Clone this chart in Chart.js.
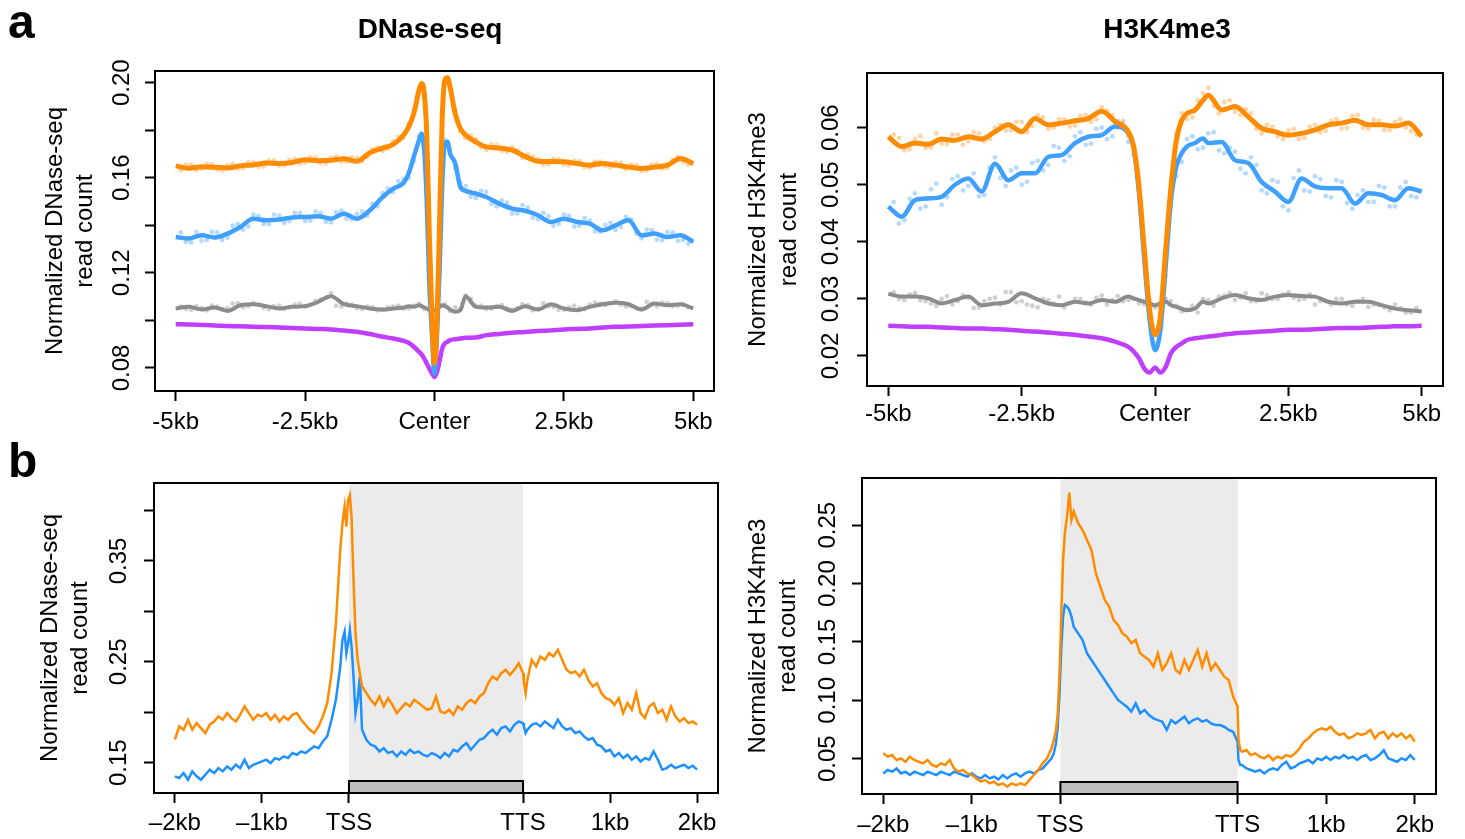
<!DOCTYPE html>
<html>
<head>
<meta charset="utf-8">
<script src="https://cdn.jsdelivr.net/npm/chart.js@4.4.0/dist/chart.umd.min.js"></script>
<style>
html, body { margin: 0; padding: 0; background: #fff; }
#wrap { position: relative; width: 1465px; height: 839px; overflow: hidden; }
canvas { position: absolute; }
</style>
</head>
<body>
<div id="wrap">
  <canvas id="cA1" width="735" height="440" style="left:0;top:0"></canvas>
  <canvas id="cA2" width="730" height="440" style="left:735px;top:0"></canvas>
  <canvas id="cB1" width="735" height="399" style="left:0;top:440px"></canvas>
  <canvas id="cB2" width="730" height="399" style="left:735px;top:440px"></canvas>
</div>
<script>
// ---- panel a, DNase-seq (kb from peak center) ----
const dnaseKb = [-5,-4.75,-4.5,-4.25,-4,-3.75,-3.5,-3.25,-3,-2.75,-2.5,-2.25,-2,-1.75,-1.5,-1.25,-1,-0.8,-0.6,-0.5,-0.4,-0.3,-0.25,-0.2,-0.15,-0.1,-0.05,0,0.05,0.1,0.15,0.2,0.25,0.3,0.4,0.5,0.6,0.8,1,1.25,1.5,1.75,2,2.25,2.5,2.75,3,3.25,3.5,3.75,4,4.25,4.5,4.75,5];
const dnaseOrange = [0.1650,0.1640,0.1646,0.1644,0.1641,0.1650,0.1654,0.1662,0.1660,0.1664,0.1676,0.1672,0.1674,0.1680,0.1669,0.1705,0.1725,0.1740,0.1779,0.1814,0.1870,0.1968,0.1996,0.1960,0.1786,0.1365,0.1015,0.0819,0.1015,0.1435,0.1856,0.2010,0.2021,0.1982,0.1870,0.1807,0.1780,0.1750,0.1730,0.1725,0.1716,0.1690,0.1669,0.1668,0.1667,0.1660,0.1653,0.1660,0.1653,0.1645,0.1639,0.1645,0.1653,0.1681,0.1660];
const dnaseBlue = [0.1351,0.1344,0.1358,0.1349,0.1365,0.1393,0.1428,0.1421,0.1424,0.1433,0.1435,0.1438,0.1428,0.1449,0.1428,0.1463,0.1519,0.1554,0.1578,0.1618,0.1688,0.1758,0.1786,0.1716,0.1505,0.1155,0.0945,0.0777,0.0945,0.1225,0.1575,0.1744,0.1751,0.1702,0.1660,0.1561,0.1545,0.1533,0.1519,0.1491,0.1470,0.1461,0.1442,0.1414,0.1428,0.1414,0.1407,0.1379,0.1400,0.1421,0.1358,0.1365,0.1351,0.1358,0.1330];
const dnaseGray = [0.1050,0.1057,0.1046,0.1054,0.1040,0.1064,0.1068,0.1060,0.1050,0.1057,0.1060,0.1078,0.1102,0.1068,0.1060,0.1050,0.1046,0.1050,0.1054,0.1060,0.1057,0.1064,0.1060,0.1054,0.1050,0.1046,0.1043,0.1043,0.1050,0.1057,0.1064,0.1060,0.1054,0.1046,0.1036,0.1043,0.1100,0.1057,0.1054,0.1057,0.1040,0.1060,0.1046,0.1068,0.1050,0.1043,0.1057,0.1068,0.1074,0.1068,0.1046,0.1071,0.1064,0.1068,0.1050];
const dnasePurple = [0.0984,0.0983,0.0981,0.0979,0.0976,0.0975,0.0973,0.0972,0.0970,0.0968,0.0966,0.0964,0.0962,0.0957,0.0952,0.0943,0.0931,0.0924,0.0914,0.0906,0.0889,0.0868,0.0857,0.0840,0.0819,0.0798,0.0777,0.0763,0.0784,0.0833,0.0882,0.0903,0.0910,0.0917,0.0921,0.0924,0.0927,0.0928,0.0938,0.0943,0.0948,0.0951,0.0955,0.0958,0.0962,0.0964,0.0966,0.0970,0.0973,0.0974,0.0976,0.0978,0.0980,0.0982,0.0984];

// raw bin values (the faint dots), odd and even tenths of a kb
const dotKb = [-4.9,-4.7,-4.5,-4.3,-4.1,-3.9,-3.7,-3.5,-3.3,-3.1,-2.9,-2.7,-2.5,-2.3,-2.1,-1.9,-1.7,-1.5,-1.3,-1.1,-0.9,-0.7,-0.5,-0.3,-0.1,0.1,0.3,0.5,0.7,0.9,1.1,1.3,1.5,1.7,1.9,2.1,2.3,2.5,2.7,2.9,3.1,3.3,3.5,3.7,3.9,4.1,4.3,4.5,4.7,4.9];
const dotKb2 = [-4.8,-4.6,-4.4,-4.2,-4,-3.8,-3.6,-3.4,-3.2,-3,-2.8,-2.6,-2.4,-2.2,-2,-1.8,-1.6,-1.4,-1.2,-1,-0.8,-0.6,-0.4,-0.2,0,0.2,0.4,0.6,0.8,1,1.2,1.4,1.6,1.8,2,2.2,2.4,2.6,2.8,3,3.2,3.4,3.6,3.8,4,4.2,4.4,4.6,4.8];
const dnaseOrangeDots = [0.1632,0.1655,0.1638,0.1656,0.1630,0.1658,0.1640,0.1667,0.1648,0.1673,0.1652,0.1680,0.1664,0.1685,0.1660,0.1690,0.1668,0.1683,0.1687,0.1728,0.1722,0.1772,0.1826,0.1955,0.1380,0.1450,0.1990,0.1795,0.1778,0.1728,0.1740,0.1712,0.1728,0.1684,0.1690,0.1655,0.1680,0.1655,0.1672,0.1645,0.1668,0.1648,0.1665,0.1636,0.1652,0.1630,0.1658,0.1642,0.1688,0.1655];
const dnaseOrangeDots2 = [0.1655,0.1632,0.1658,0.1634,0.1652,0.1638,0.1665,0.1646,0.1672,0.1650,0.1675,0.1660,0.1686,0.1662,0.1684,0.1668,0.1686,0.1672,0.1720,0.1712,0.1755,0.1768,0.1882,0.1948,0.0790,0.2000,0.1885,0.1768,0.1762,0.1718,0.1738,0.1708,0.1716,0.1698,0.1678,0.1656,0.1678,0.1652,0.1670,0.1642,0.1668,0.1645,0.1662,0.1655,0.1628,0.1655,0.1638,0.1675,0.1665];
const dnaseBlueDots = [0.1370,0.1328,0.1335,0.1372,0.1338,0.1398,0.1382,0.1445,0.1405,0.1445,0.1410,0.1452,0.1418,0.1458,0.1415,0.1455,0.1428,0.1448,0.1440,0.1480,0.1555,0.1585,0.1600,0.1775,0.1180,0.1200,0.1720,0.1580,0.1520,0.1545,0.1490,0.1505,0.1450,0.1485,0.1432,0.1452,0.1398,0.1445,0.1395,0.1430,0.1375,0.1402,0.1380,0.1435,0.1365,0.1382,0.1340,0.1372,0.1335,0.1322];
const dnaseBlueDots2 = [0.1330,0.1372,0.1338,0.1370,0.1348,0.1405,0.1395,0.1440,0.1405,0.1440,0.1418,0.1452,0.1420,0.1452,0.1412,0.1462,0.1425,0.1458,0.1490,0.1535,0.1540,0.1595,0.1670,0.1735,0.0760,0.1760,0.1640,0.1565,0.1515,0.1540,0.1480,0.1495,0.1450,0.1475,0.1425,0.1438,0.1405,0.1440,0.1398,0.1420,0.1372,0.1410,0.1392,0.1425,0.1345,0.1380,0.1338,0.1370,0.1338];
const dnaseGrayDots = [0.1058,0.1045,0.1052,0.1062,0.1048,0.1070,0.1055,0.1074,0.1052,0.1060,0.1048,0.1066,0.1058,0.1082,0.1095,0.1062,0.1070,0.1052,0.1058,0.1042,0.1055,0.1062,0.1050,0.1070,0.1040,0.1062,0.1040,0.1048,0.1090,0.1062,0.1050,0.1064,0.1046,0.1068,0.1042,0.1072,0.1056,0.1045,0.1062,0.1048,0.1075,0.1064,0.1080,0.1058,0.1052,0.1078,0.1060,0.1072,0.1062,0.1055];
const dnaseGrayDots2 = [0.1048,0.1060,0.1042,0.1058,0.1052,0.1072,0.1060,0.1066,0.1048,0.1062,0.1055,0.1070,0.1065,0.1088,0.1115,0.1058,0.1066,0.1048,0.1055,0.1045,0.1058,0.1050,0.1062,0.1048,0.1040,0.1068,0.1055,0.1105,0.1062,0.1048,0.1060,0.1050,0.1052,0.1064,0.1048,0.1060,0.1045,0.1055,0.1052,0.1066,0.1070,0.1072,0.1066,0.1060,0.1048,0.1068,0.1075,0.1060,0.1068];

// ---- panel a, H3K4me3 ----
const k4Kb = [-5,-4.75,-4.5,-4.25,-4,-3.75,-3.5,-3.25,-3,-2.75,-2.5,-2.25,-2,-1.75,-1.5,-1.25,-1,-0.75,-0.5,-0.4,-0.3,-0.2,-0.1,0,0.1,0.2,0.3,0.4,0.5,0.6,0.75,0.9,1,1.25,1.5,1.75,2,2.25,2.5,2.75,3,3.25,3.5,3.75,4,4.25,4.5,4.75,5];
const k4Orange = [0.0584,0.0567,0.0573,0.0571,0.0580,0.0578,0.0584,0.0580,0.0593,0.0605,0.0593,0.0616,0.0605,0.0608,0.0612,0.0616,0.0629,0.0611,0.0593,0.0567,0.0497,0.0386,0.0281,0.0237,0.0269,0.0386,0.0497,0.0578,0.0613,0.0625,0.0631,0.0648,0.0657,0.0631,0.0637,0.0619,0.0599,0.0593,0.0587,0.0590,0.0596,0.0605,0.0608,0.0613,0.0605,0.0605,0.0603,0.0608,0.0585];
const k4Blue = [0.0462,0.0444,0.0473,0.0476,0.0479,0.0500,0.0511,0.0488,0.0537,0.0508,0.0520,0.0520,0.0549,0.0552,0.0573,0.0584,0.0587,0.0602,0.0590,0.0564,0.0485,0.0368,0.0263,0.0210,0.0245,0.0356,0.0473,0.0532,0.0555,0.0567,0.0573,0.0581,0.0573,0.0575,0.0543,0.0538,0.0505,0.0488,0.0470,0.0511,0.0497,0.0494,0.0494,0.0467,0.0485,0.0482,0.0473,0.0494,0.0488];
const k4Gray = [0.0309,0.0304,0.0304,0.0301,0.0292,0.0298,0.0304,0.0289,0.0292,0.0295,0.0310,0.0301,0.0292,0.0289,0.0295,0.0292,0.0298,0.0295,0.0304,0.0301,0.0298,0.0295,0.0292,0.0289,0.0292,0.0295,0.0289,0.0286,0.0283,0.0280,0.0283,0.0295,0.0292,0.0301,0.0307,0.0301,0.0298,0.0304,0.0307,0.0305,0.0304,0.0295,0.0292,0.0295,0.0295,0.0289,0.0283,0.0280,0.0278];
const k4Purple = [0.0253,0.0252,0.0251,0.0251,0.0250,0.0249,0.0248,0.0248,0.0247,0.0246,0.0244,0.0243,0.0241,0.0239,0.0237,0.0234,0.0231,0.0225,0.0216,0.0208,0.0196,0.0178,0.0171,0.0180,0.0171,0.0181,0.0205,0.0216,0.0222,0.0228,0.0231,0.0233,0.0234,0.0237,0.0240,0.0241,0.0243,0.0244,0.0246,0.0246,0.0247,0.0248,0.0249,0.0249,0.0250,0.0251,0.0252,0.0252,0.0253];
const k4OrangeDots = [0.0588,0.0560,0.0580,0.0565,0.0590,0.0572,0.0588,0.0576,0.0590,0.0580,0.0605,0.0596,0.0610,0.0603,0.0618,0.0600,0.0615,0.0604,0.0622,0.0615,0.0630,0.0600,0.0585,0.0505,0.0290,0.0275,0.0505,0.0625,0.0618,0.0660,0.0638,0.0645,0.0628,0.0632,0.0598,0.0605,0.0585,0.0595,0.0580,0.0602,0.0592,0.0612,0.0598,0.0620,0.0600,0.0614,0.0596,0.0610,0.0600,0.0588];
const k4OrangeDots2 = [0.0582,0.0562,0.0585,0.0565,0.0572,0.0588,0.0570,0.0592,0.0576,0.0600,0.0595,0.0610,0.0592,0.0622,0.0598,0.0615,0.0602,0.0620,0.0610,0.0636,0.0622,0.0612,0.0558,0.0395,0.0245,0.0372,0.0590,0.0615,0.0648,0.0670,0.0625,0.0648,0.0622,0.0625,0.0590,0.0602,0.0580,0.0598,0.0582,0.0605,0.0595,0.0615,0.0600,0.0622,0.0598,0.0612,0.0596,0.0615,0.0594];
const k4BlueDots = [0.0470,0.0438,0.0485,0.0462,0.0502,0.0478,0.0515,0.0498,0.0480,0.0530,0.0512,0.0525,0.0500,0.0538,0.0525,0.0568,0.0542,0.0585,0.0570,0.0598,0.0580,0.0612,0.0575,0.0500,0.0275,0.0255,0.0460,0.0540,0.0585,0.0565,0.0592,0.0555,0.0558,0.0520,0.0535,0.0485,0.0505,0.0455,0.0525,0.0488,0.0510,0.0478,0.0505,0.0458,0.0490,0.0470,0.0495,0.0462,0.0505,0.0478];
const k4BlueDots2 = [0.0432,0.0475,0.0458,0.0492,0.0465,0.0510,0.0490,0.0520,0.0482,0.0548,0.0498,0.0530,0.0505,0.0542,0.0535,0.0565,0.0550,0.0592,0.0572,0.0600,0.0585,0.0608,0.0552,0.0380,0.0222,0.0340,0.0515,0.0580,0.0562,0.0590,0.0560,0.0565,0.0528,0.0548,0.0490,0.0508,0.0462,0.0512,0.0490,0.0515,0.0480,0.0508,0.0468,0.0482,0.0470,0.0498,0.0462,0.0495,0.0480];
const k4GrayDots = [0.0312,0.0298,0.0310,0.0296,0.0288,0.0305,0.0296,0.0302,0.0285,0.0300,0.0290,0.0312,0.0296,0.0288,0.0300,0.0292,0.0285,0.0300,0.0294,0.0302,0.0290,0.0305,0.0298,0.0292,0.0298,0.0286,0.0296,0.0278,0.0288,0.0300,0.0288,0.0306,0.0298,0.0310,0.0296,0.0306,0.0300,0.0312,0.0298,0.0308,0.0296,0.0290,0.0300,0.0288,0.0300,0.0290,0.0285,0.0290,0.0276,0.0284];
const k4GrayDots2 = [0.0300,0.0308,0.0298,0.0292,0.0300,0.0290,0.0306,0.0284,0.0296,0.0302,0.0312,0.0294,0.0290,0.0285,0.0298,0.0304,0.0292,0.0300,0.0290,0.0306,0.0298,0.0296,0.0300,0.0290,0.0285,0.0300,0.0288,0.0282,0.0276,0.0298,0.0304,0.0310,0.0302,0.0296,0.0310,0.0300,0.0308,0.0302,0.0300,0.0290,0.0296,0.0300,0.0290,0.0296,0.0286,0.0290,0.0280,0.0284,0.0276];

// ---- panel b, gene body profiles (TSS = 0, TTS = 2, flanks in kb) ----
const genePos = [-2,-1.95,-1.9,-1.85,-1.8,-1.75,-1.7,-1.65,-1.6,-1.55,-1.5,-1.45,-1.4,-1.35,-1.3,-1.25,-1.2,-1.15,-1.1,-1.05,-1,-0.95,-0.9,-0.85,-0.8,-0.75,-0.7,-0.65,-0.6,-0.55,-0.5,-0.45,-0.4,-0.35,-0.3,-0.25,-0.2,-0.15,
  -0.1,-0.075,-0.05,-0.03,-0.01,0.01,0.03,0.05,0.075,0.1,0.125,
  0.15,0.2,0.25,0.3,0.35,0.4,0.45,0.5,0.55,0.6,0.65,0.7,0.75,0.8,0.85,0.9,0.95,1,1.05,1.1,1.15,1.2,1.25,1.3,1.35,1.4,1.45,1.5,1.55,1.6,1.65,1.7,1.75,1.8,1.85,1.9,1.95,2,
  2.01,2.03,2.05,
  2.1,2.15,2.2,2.25,2.3,2.35,2.4,2.45,2.5,2.55,2.6,2.65,2.7,2.75,2.8,2.85,2.9,2.95,3,3.05,3.1,3.15,3.2,3.25,3.3,3.35,3.4,3.45,3.5,3.55,3.6,3.65,3.7,3.75,3.8,3.85,3.9,3.95,4];
const geneDnaseOrange = [0.1728,0.1860,0.1827,0.1926,0.1827,0.1893,0.1843,0.1794,0.1876,0.1909,0.1959,0.1926,0.1992,0.1942,0.1909,0.1975,0.2058,0.1992,0.1926,0.1975,0.1959,0.1992,0.1926,0.1975,0.1909,0.1959,0.1926,0.1975,0.1992,0.1926,0.1876,0.1827,0.1794,0.1860,0.1959,0.2091,0.2388,0.2883,
  0.3609,0.3873,0.4038,0.3840,0.4104,0.4153,0.3939,0.3378,0.2784,0.2520,0.2388,
  0.2256,0.2190,0.2124,0.2074,0.2157,0.2058,0.2140,0.2074,0.1992,0.2041,0.2091,0.2058,0.2124,0.2091,0.2058,0.2025,0.2041,0.2157,0.2008,0.1992,0.2025,0.1975,0.2058,0.2025,0.2091,0.2124,0.2091,0.2157,0.2190,0.2289,0.2355,0.2322,0.2388,0.2421,0.2371,0.2421,0.2487,0.2388,
  0.2300,0.2190,0.2322,
  0.2520,0.2454,0.2553,0.2520,0.2586,0.2553,0.2619,0.2520,0.2421,0.2388,0.2404,0.2355,0.2421,0.2322,0.2256,0.2289,0.2190,0.2140,0.2124,0.2074,0.2140,0.1992,0.2091,0.2025,0.2190,0.1992,0.1942,0.2058,0.2091,0.1992,0.2025,0.1926,0.2058,0.1959,0.1909,0.1942,0.1893,0.1909,0.1876];
const geneDnaseBlue = [0.1365,0.1348,0.1398,0.1332,0.1414,0.1365,0.1332,0.1381,0.1431,0.1398,0.1447,0.1414,0.1464,0.1431,0.1480,0.1447,0.1530,0.1447,0.1480,0.1497,0.1513,0.1530,0.1497,0.1546,0.1530,0.1563,0.1546,0.1596,0.1579,0.1612,0.1596,0.1629,0.1662,0.1645,0.1711,0.1761,0.1926,0.2124,
  0.2454,0.2718,0.2800,0.2586,0.2685,0.2817,0.2652,0.2388,0.1992,0.2124,0.2355,
  0.1827,0.1728,0.1678,0.1662,0.1612,0.1645,0.1596,0.1612,0.1563,0.1612,0.1579,0.1629,0.1596,0.1612,0.1579,0.1563,0.1596,0.1579,0.1546,0.1596,0.1563,0.1629,0.1612,0.1662,0.1695,0.1629,0.1678,0.1728,0.1744,0.1794,0.1827,0.1777,0.1843,0.1860,0.1810,0.1876,0.1909,0.1893,
  0.1860,0.1794,0.1827,
  0.1876,0.1893,0.1860,0.1909,0.1876,0.1843,0.1926,0.1860,0.1827,0.1843,0.1794,0.1810,0.1761,0.1728,0.1744,0.1678,0.1662,0.1612,0.1629,0.1563,0.1596,0.1546,0.1579,0.1530,0.1563,0.1513,0.1546,0.1530,0.1612,0.1530,0.1431,0.1447,0.1480,0.1447,0.1464,0.1480,0.1447,0.1470,0.1431];
const geneK4Orange = [0.0546,0.0517,0.0531,0.0489,0.0503,0.0474,0.0517,0.0489,0.0474,0.0460,0.0489,0.0446,0.0431,0.0460,0.0446,0.0489,0.0417,0.0389,0.0403,0.0374,0.0360,0.0331,0.0303,0.0317,0.0289,0.0303,0.0274,0.0289,0.0260,0.0289,0.0274,0.0289,0.0274,0.0317,0.0360,0.0403,0.0460,0.0503,
  0.0589,0.0660,0.0746,0.0889,0.1231,0.1746,0.2203,0.2431,0.2574,0.2780,0.2546,
  0.2617,0.2517,0.2460,0.2374,0.2289,0.2089,0.1974,0.1860,0.1803,0.1689,0.1646,0.1574,0.1546,0.1489,0.1517,0.1403,0.1374,0.1346,0.1289,0.1403,0.1260,0.1317,0.1403,0.1260,0.1231,0.1346,0.1260,0.1346,0.1431,0.1289,0.1403,0.1260,0.1317,0.1260,0.1203,0.1174,0.1031,0.0946,
  0.0660,0.0574,0.0560,
  0.0574,0.0531,0.0546,0.0517,0.0503,0.0531,0.0489,0.0517,0.0503,0.0531,0.0517,0.0546,0.0589,0.0646,0.0674,0.0717,0.0746,0.0760,0.0746,0.0774,0.0731,0.0703,0.0717,0.0674,0.0689,0.0717,0.0703,0.0717,0.0746,0.0674,0.0717,0.0731,0.0674,0.0717,0.0689,0.0717,0.0674,0.0703,0.0646];
const geneK4Blue = [0.0374,0.0403,0.0389,0.0417,0.0374,0.0389,0.0360,0.0389,0.0374,0.0360,0.0389,0.0374,0.0360,0.0389,0.0374,0.0360,0.0389,0.0374,0.0360,0.0346,0.0374,0.0346,0.0331,0.0360,0.0331,0.0346,0.0323,0.0360,0.0331,0.0360,0.0374,0.0346,0.0374,0.0389,0.0374,0.0403,0.0417,0.0460,
  0.0503,0.0546,0.0631,0.0774,0.1060,0.1460,0.1717,0.1817,0.1803,0.1774,0.1717,
  0.1631,0.1574,0.1517,0.1403,0.1346,0.1289,0.1231,0.1174,0.1117,0.1060,0.1003,0.0974,0.0946,0.0903,0.0974,0.0889,0.0917,0.0874,0.0846,0.0831,0.0817,0.0746,0.0831,0.0803,0.0831,0.0860,0.0803,0.0831,0.0846,0.0817,0.0831,0.0803,0.0789,0.0789,0.0774,0.0746,0.0731,0.0646,
  0.0489,0.0446,0.0446,
  0.0417,0.0403,0.0389,0.0403,0.0374,0.0403,0.0417,0.0403,0.0446,0.0474,0.0417,0.0431,0.0460,0.0474,0.0489,0.0460,0.0503,0.0489,0.0517,0.0489,0.0517,0.0503,0.0531,0.0503,0.0517,0.0489,0.0517,0.0531,0.0489,0.0503,0.0531,0.0574,0.0503,0.0489,0.0474,0.0503,0.0489,0.0531,0.0489];

// ---- axis ticks ----
const centerTicks = [-5, -2.5, 0, 2.5, 5];
const centerLabels = ['-5kb', '-2.5kb', 'Center', '2.5kb', '5kb'];
const geneTicks = [-2, -1, 0, 2, 3, 4];
const geneLabels = ['\u20132kb', '\u20131kb', 'TSS', 'TTS', '1kb', '2kb'];
const geneBody = [0, 2];

const FONT = '"Liberation Sans", Arial, sans-serif';
const ORANGE = '#ff8c00';
const BLUE_A = '#3fa0ff';
const GRAY = '#8c8c8c';
const PURPLE = '#bf3eff';
const DOT_ORANGE = 'rgba(255,160,60,0.45)';
const DOT_BLUE = 'rgba(90,170,255,0.45)';
const DOT_GRAY = 'rgba(150,150,150,0.45)';

const pts = (xs, ys) => xs.map((x, i) => ({ x: x, y: ys[i] }));

function line(xs, ys, color, width, smooth) {
  return {
    data: pts(xs, ys), borderColor: color, borderWidth: width,
    pointRadius: 0, fill: false,
    cubicInterpolationMode: smooth ? 'monotone' : 'default', tension: 0
  };
}
function dots(xs, ys, color) {
  return {
    data: pts(xs, ys), showLine: false, pointRadius: 2.4, pointBorderWidth: 0,
    pointBackgroundColor: color, borderColor: color
  };
}

// draws the box, rotated y labels, axis titles, shading and gene bar
const decor = {
  id: 'decor',
  beforeDatasetsDraw(chart, args, o) {
    if (!o.shade) return;
    const { ctx, chartArea: a, scales: { x } } = chart;
    const x0 = x.getPixelForValue(o.shade[0]);
    const x1 = x.getPixelForValue(o.shade[1]);
    ctx.save();
    ctx.fillStyle = '#ebebeb';
    ctx.fillRect(x0, a.top, x1 - x0, a.bottom - a.top);
    ctx.restore();
  },
  afterDraw(chart, args, o) {
    const { ctx, chartArea: a, scales: { x, y } } = chart;
    ctx.save();
    if (o.shade) {
      const x0 = x.getPixelForValue(o.shade[0]);
      const x1 = x.getPixelForValue(o.shade[1]);
      ctx.fillStyle = '#bebebe';
      ctx.fillRect(x0, a.bottom - 12, x1 - x0, 12);
      ctx.lineWidth = 2;
      ctx.strokeStyle = '#000';
      ctx.strokeRect(x0, a.bottom - 12, x1 - x0, 12);
    }
    ctx.strokeStyle = '#000';
    ctx.lineWidth = 2;
    ctx.strokeRect(a.left, a.top, a.right - a.left, a.bottom - a.top);

    ctx.fillStyle = '#000';
    ctx.textAlign = 'center';
    ctx.textBaseline = 'middle';
    ctx.font = '24px ' + FONT;
    o.yTicks.forEach((v, i) => {
      const lab = o.yLabels[i];
      if (!lab) return;
      ctx.save();
      ctx.translate(a.left - o.labelGap, y.getPixelForValue(v));
      ctx.rotate(-Math.PI / 2);
      ctx.fillText(lab, 0, 0);
      ctx.restore();
    });
    const midY = (a.top + a.bottom) / 2;
    o.yTitle.forEach((t, i) => {
      ctx.save();
      ctx.translate(a.left - o.titleGap[i], midY);
      ctx.rotate(-Math.PI / 2);
      ctx.fillText(t, 0, 0);
      ctx.restore();
    });
    ctx.textBaseline = 'alphabetic';
    if (o.title) {
      ctx.font = 'bold 28px ' + FONT;
      ctx.fillText(o.title, o.titleAt[0], o.titleAt[1]);
    }
    if (o.letter) {
      ctx.textAlign = 'left';
      ctx.font = 'bold 48px ' + FONT;
      ctx.fillText(o.letter, o.letterAt[0], o.letterAt[1]);
    }
    ctx.restore();
  }
};

function panel(id, p) {
  new Chart(document.getElementById(id), {
    type: 'line',
    data: { datasets: p.datasets },
    plugins: [decor],
    options: {
      responsive: false,
      animation: false,
      events: [],
      layout: { autoPadding: false, padding: { left: 0, top: p.padTop, right: p.padRight, bottom: 0 } },
      plugins: {
        legend: { display: false },
        tooltip: { enabled: false },
        decor: p.decor
      },
      scales: {
        x: {
          type: 'linear', min: p.xMin, max: p.xMax,
          afterBuildTicks: s => { s.ticks = p.xTicks.map(v => ({ value: v })); },
          afterFit: s => { s.height = p.xHeight; },
          ticks: {
            autoSkip: false, maxRotation: 0, minRotation: 0, padding: p.xPad,
            color: '#000', font: { family: FONT, size: 24 },
            callback: (v, i) => p.xLabels[i]
          },
          grid: { drawOnChartArea: false, tickLength: 10, tickColor: '#000', tickWidth: 2 },
          border: { display: true, color: '#000', width: 2 }
        },
        y: {
          type: 'linear', min: p.yMin, max: p.yMax,
          afterBuildTicks: s => { s.ticks = p.decor.yTicks.map(v => ({ value: v })); },
          afterFit: s => { s.width = p.yWidth; },
          ticks: { display: false },
          grid: { drawOnChartArea: false, tickLength: 10, tickColor: '#000', tickWidth: 2 },
          border: { display: true, color: '#000', width: 2 }
        }
      }
    }
  });
}

panel('cA1', {
  padTop: 71, padRight: 21, yWidth: 155, xHeight: 49, xPad: 7,
  xMin: -5.4, xMax: 5.4, yMin: 0.0703, yMax: 0.2049,
  xTicks: centerTicks, xLabels: centerLabels,
  datasets: [
    line(dnaseKb, dnaseOrange, ORANGE, 5, true),
    line(dnaseKb, dnaseBlue, BLUE_A, 4.5, true),
    line(dnaseKb, dnaseGray, GRAY, 4, true),
    line(dnaseKb, dnasePurple, PURPLE, 4.5, true),
    dots(dotKb, dnaseOrangeDots, DOT_ORANGE),
    dots(dotKb2, dnaseOrangeDots2, DOT_ORANGE),
    dots(dotKb, dnaseBlueDots, DOT_BLUE),
    dots(dotKb2, dnaseBlueDots2, DOT_BLUE),
    dots(dotKb, dnaseGrayDots, DOT_GRAY),
    dots(dotKb2, dnaseGrayDots2, DOT_GRAY)
  ],
  decor: {
    yTicks: [0.08, 0.10, 0.12, 0.14, 0.16, 0.18, 0.20],
    yLabels: ['0.08', '', '0.12', '', '0.16', '', '0.20'],
    labelGap: 33, yTitle: ['Normalized DNase-seq', 'read count'], titleGap: [100, 70],
    title: 'DNase-seq', titleAt: [430, 38], letter: 'a', letterAt: [8, 38]
  }
});

panel('cA2', {
  padTop: 73, padRight: 22, yWidth: 132, xHeight: 54, xPad: 4,
  xMin: -5.4, xMax: 5.4, yMin: 0.01474, yMax: 0.06958,
  xTicks: centerTicks, xLabels: centerLabels,
  datasets: [
    line(k4Kb, k4Orange, ORANGE, 5, true),
    line(k4Kb, k4Blue, BLUE_A, 4.5, true),
    line(k4Kb, k4Gray, GRAY, 4, true),
    line(k4Kb, k4Purple, PURPLE, 4.5, true),
    dots(dotKb, k4OrangeDots, DOT_ORANGE),
    dots(dotKb2, k4OrangeDots2, DOT_ORANGE),
    dots(dotKb, k4BlueDots, DOT_BLUE),
    dots(dotKb2, k4BlueDots2, DOT_BLUE),
    dots(dotKb, k4GrayDots, DOT_GRAY),
    dots(dotKb2, k4GrayDots2, DOT_GRAY)
  ],
  decor: {
    yTicks: [0.02, 0.03, 0.04, 0.05, 0.06],
    yLabels: ['0.02', '0.03', '0.04', '0.05', '0.06'],
    labelGap: 36, yTitle: ['Normalized H3K4me3', 'read count'], titleGap: [109, 78],
    title: 'H3K4me3', titleAt: [432, 38]
  }
});

panel('cB1', {
  padTop: 43, padRight: 17, yWidth: 154, xHeight: 46, xPad: 6,
  xMin: -2.24, xMax: 4.24, yMin: 0.1200, yMax: 0.4273,
  xTicks: geneTicks, xLabels: geneLabels,
  datasets: [
    line(genePos, geneDnaseOrange, ORANGE, 2.5, false),
    line(genePos, geneDnaseBlue, '#1e90ff', 2.5, false)
  ],
  decor: {
    yTicks: [0.15, 0.20, 0.25, 0.30, 0.35, 0.40],
    yLabels: ['0.15', '', '0.25', '', '0.35', ''],
    labelGap: 35, yTitle: ['Normalized DNase-seq', 'read count'], titleGap: [104, 74],
    shade: geneBody, letter: 'b', letterAt: [8, 37]
  }
});

panel('cB2', {
  padTop: 38, padRight: 29, yWidth: 127, xHeight: 45, xPad: 7,
  xMin: -2.24, xMax: 4.24, yMin: 0.01975, yMax: 0.2905,
  xTicks: geneTicks, xLabels: geneLabels,
  datasets: [
    line(genePos, geneK4Orange, ORANGE, 2.5, false),
    line(genePos, geneK4Blue, '#1e90ff', 2.5, false)
  ],
  decor: {
    yTicks: [0.05, 0.10, 0.15, 0.20, 0.25],
    yLabels: ['0.05', '0.10', '0.15', '0.20', '0.25'],
    labelGap: 34, yTitle: ['Normalized H3K4me3', 'read count'], titleGap: [104, 74],
    shade: geneBody
  }
});
</script>
</body>
</html>
